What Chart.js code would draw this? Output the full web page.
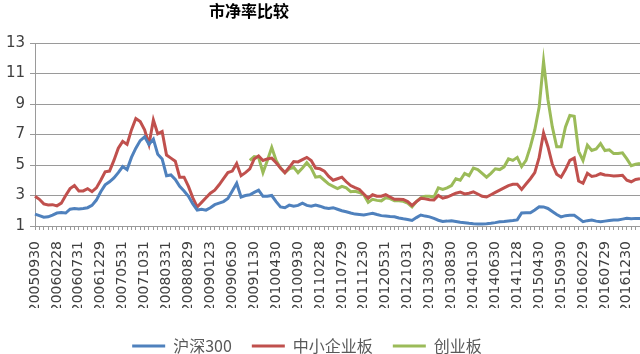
<!DOCTYPE html>
<html><head><meta charset="utf-8">
<script src="https://cdn.jsdelivr.net/npm/chart.js@4"></script>
<style>html,body{margin:0;padding:0;background:#fff}#wrap{width:640px;height:354px;position:relative}</style>
</head><body><div id="wrap"><canvas id="c"></canvas></div>
<script>
const chartTitle = '市净率比较';
const seriesNames = ['沪深300', '中小企业板', '创业板'];
const tickLabels = ['20050930','20060228','20060731','20061229','20070531','20071031','20080331','20080829','20090123','20090630','20091130','20100430','20100930','20110228','20110729','20111230','20120531','20121031','20130329','20130830','20140130','20140630','20141128','20150430','20150930','20160229','20160729','20161230'];
const yTicks = [1, 3, 5, 7, 9, 11, 13];

const hs300 = [
1.78,1.68,1.58,1.6,1.72,1.85,1.88,1.85,2.1,2.15,
2.12,2.15,2.2,2.35,2.7,3.25,3.7,3.9,4.15,4.5,
4.9,4.7,5.5,6.1,6.6,6.85,6.35,6.7,5.7,5.4,
4.3,4.35,4.05,3.6,3.3,2.95,2.45,2.05,2.1,2.04,
2.2,2.4,2.5,2.6,2.8,3.3,3.8,2.9,3.0,3.05,
3.2,3.35,2.95,2.95,3.0,2.6,2.25,2.2,2.37,2.3,
2.35,2.5,2.35,2.3,2.37,2.3,2.2,2.15,2.2,2.1,
2.0,1.93,1.85,1.78,1.75,1.72,1.78,1.83,1.75,1.68,
1.65,1.62,1.6,1.52,1.47,1.43,1.36,1.55,1.72,1.65,
1.6,1.5,1.38,1.3,1.32,1.35,1.3,1.25,1.22,1.18,
1.15,1.13,1.13,1.15,1.18,1.22,1.28,1.3,1.33,1.36,
1.4,1.85,1.87,1.87,2.05,2.26,2.25,2.15,1.95,1.75,
1.6,1.68,1.7,1.7,1.5,1.28,1.35,1.39,1.32,1.28,
1.32,1.36,1.39,1.39,1.45,1.5,1.48,1.5,1.5];

const smeBoard = [
2.95,2.75,2.45,2.38,2.4,2.32,2.5,3.0,3.45,3.65,
3.3,3.3,3.45,3.25,3.5,4.0,4.55,4.6,5.3,6.1,
6.55,6.35,7.3,8.05,7.85,7.3,6.35,7.95,7.05,7.2,
5.65,5.45,5.25,4.2,4.2,3.6,2.85,2.25,2.55,2.85,
3.15,3.35,3.7,4.1,4.5,4.6,5.1,4.3,4.5,4.75,
5.4,5.6,5.3,5.4,5.45,5.15,4.8,4.5,4.85,5.23,
5.2,5.35,5.5,5.3,4.8,4.75,4.6,4.25,4.0,4.1,
4.2,3.9,3.65,3.52,3.4,3.1,2.82,3.05,2.95,2.95,
3.05,2.9,2.75,2.75,2.74,2.6,2.35,2.6,2.82,2.78,
2.72,2.7,3.0,2.82,2.9,3.02,3.15,3.22,3.1,3.15,
3.24,3.1,2.95,2.9,3.05,3.2,3.35,3.5,3.65,3.74,
3.74,3.4,3.75,4.1,4.5,5.5,7.1,6.2,5.05,4.4,
4.2,4.7,5.3,5.45,3.95,3.8,4.45,4.25,4.3,4.43,
4.35,4.32,4.28,4.3,4.32,4.0,3.9,4.05,4.1];

// ChiNext starts at month index 49 (2009-10)
const chinextStart = 49;
const chinext = [
5.3,
5.55,5.5,4.5,5.3,6.15,5.3,4.8,4.5,4.75,4.85,
4.5,4.8,5.15,4.8,4.2,4.25,4.0,3.75,3.6,3.45,
3.6,3.5,3.25,3.28,3.2,3.05,2.55,2.75,2.68,2.65,
2.85,2.8,2.65,2.65,2.62,2.5,2.25,2.6,2.85,2.95,
2.95,2.9,3.5,3.4,3.5,3.65,4.1,4.0,4.45,4.3,
4.8,4.7,4.45,4.2,4.45,4.75,4.7,4.88,5.4,5.3,
5.5,4.9,5.3,6.2,7.3,8.8,11.8,9.3,7.5,6.2,
6.2,7.5,8.25,8.2,5.9,5.3,6.3,5.95,6.05,6.4,
5.95,6.0,5.75,5.75,5.8,5.4,4.95,5.05,5.1];

const months = [];
for (let i = 0; i < hs300.length; i++) {
  const m = 8 + i;
  months.push((2005 + Math.floor(m / 12)) + '-' + String(m % 12 + 1).padStart(2, '0'));
}
const chinextFull = months.map((_, i) => i < chinextStart ? null : chinext[i - chinextStart]);

const colors = ['#4F81BD', '#C0504D', '#9BBB59'];
const gridColor = '#9a9a9a';

const customPlugin = {
  id: 'customTitleLegend',
  afterLayout(chart) {
    const lg = chart.legend;
    if (lg) { lg.left -= 13; lg.right -= 13; lg.top += 10; lg.bottom += 10; }
  },
  afterDraw(chart) {
    const ctx = chart.ctx;
    ctx.save();
    ctx.font = 'bold 16px "Noto Sans CJK SC"';
    ctx.fillStyle = '#000';
    ctx.textAlign = 'center';
    ctx.textBaseline = 'middle';
    ctx.fillText(chartTitle, 249, 11);
    ctx.restore();
  }
};

new Chart(document.getElementById('c'), {
  type: 'line',
  data: {
    labels: months,
    datasets: [
      { label: seriesNames[0], data: hs300, borderColor: colors[0], backgroundColor: colors[0] },
      { label: seriesNames[1], data: smeBoard, borderColor: colors[1], backgroundColor: colors[1] },
      { label: seriesNames[2], data: chinextFull, borderColor: colors[2], backgroundColor: colors[2] }
    ]
  },
  options: {
    responsive: true,
    maintainAspectRatio: false,
    animation: false,
    layout: { padding: { top: 43, left: 0, right: 0, bottom: 0 } },
    elements: { point: { radius: 0 }, line: { borderWidth: 3, tension: 0 } },
    plugins: {
      title: { display: false },
      tooltip: { enabled: false },
      legend: {
        position: 'bottom',
        labels: {
          boxWidth: 33, boxHeight: 3, padding: 20, color: '#595959',
          font: { family: '"Noto Sans CJK SC"', size: 16 },
          generateLabels(chart) {
            const items = Chart.defaults.plugins.legend.labels.generateLabels(chart);
            items.forEach(it => { it.fillStyle = it.strokeStyle; it.lineWidth = 0; });
            return items;
          }
        }
      }
    },
    scales: {
      x: {
        type: 'category', offset: false,
        grid: { drawOnChartArea: false, drawTicks: true, tickLength: 4, color: gridColor },
        border: { color: gridColor },
        ticks: {
          autoSkip: false, maxRotation: 90, minRotation: 90, padding: 11, color: '#404040',
          font: { family: '"DejaVu Sans"', size: 14 },
          callback: (v, i) => (i % 5 === 0 && tickLabels[i / 5] !== undefined) ? tickLabels[i / 5] : ''
        },
        afterFit(s) { s.height = 82; s.paddingLeft = 0; s.paddingRight = 0; }
      },
      y: {
        min: yTicks[0], max: yTicks[yTicks.length - 1],
        afterBuildTicks(s) { s.ticks = yTicks.map(v => ({ value: v })); },
        ticks: { padding: 5, color: '#404040', font: { family: '"DejaVu Sans"', size: 15 } },
        grid: { color: gridColor, tickLength: 5 },
        border: { color: gridColor },
        afterFit(s) { s.width = 35; }
      }
    }
  },
  plugins: [customPlugin]
});
</script>
</body></html>
